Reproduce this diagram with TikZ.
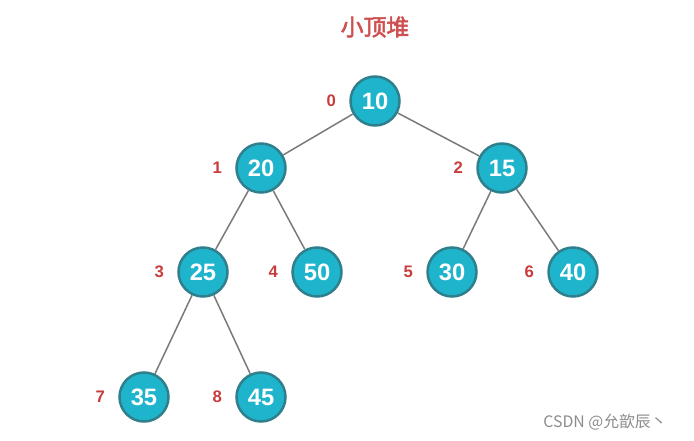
\documentclass[tikz,border=0pt]{standalone}
\usepackage{fontspec}
\setmainfont{Liberation Sans}
\newfontfamily\cjkfont{Noto Sans CJK SC}
\newfontfamily\cjkbold[AutoFakeBold=2.5]{Noto Sans CJK SC}
\usepackage{xcolor}
\usetikzlibrary{positioning}
\definecolor{hpfill}{HTML}{1DB4CC}
\definecolor{hpedge}{HTML}{2F7F8C}
\definecolor{hpline}{HTML}{7A7A7A}
\definecolor{hpred}{HTML}{C83C3C}
\definecolor{hpmark}{HTML}{8C8C8C}

\begin{document}
\begin{tikzpicture}[x=0.2mm,y=-0.2mm,font=\bfseries,node distance=2.6mm]
  \tikzstyle{hp}=[circle,draw=hpedge,line width=0.5mm,fill=hpfill,text=white,minimum size=9.8mm,inner sep=0pt,font=\fontsize{13.5}{15}\selectfont\bfseries]
  \tikzstyle{idx}=[text=hpred,font=\fontsize{9.5}{11}\selectfont\bfseries,inner sep=0pt]
  \tikzstyle{br}=[draw=hpline,line width=0.3mm]
  \useasboundingbox (0,0) rectangle (694,441);
  % title
  \node[text=hpred!90,font=\cjkbold\fontsize{13}{15}\selectfont\bfseries] (title) at (375,27) {\textbf{小顶堆}};
  % heap nodes, row by row
  \node[hp] (n0) at (375,101) {10};
  \node[hp] (n1) at (261,168) {20};
  \node[hp] (n2) at (502,168) {15};
  \node[hp] (n3) at (203,272) {25};
  \node[hp] (n4) at (317,272) {50};
  \node[hp] (n5) at (452,272) {30};
  \node[hp] (n6) at (573,272) {40};
  \node[hp] (n7) at (144,397) {35};
  \node[hp] (n8) at (261,397) {45};
  % array indices
  \foreach \i in {0,...,8}
    \node[idx,left=of n\i] (i\i) {\i};
  % branches
  \draw[br] (n0) -- (n1);
  \draw[br] (n0) -- (n2);
  \draw[br] (n1) -- (n3);
  \draw[br] (n1) -- (n4);
  \draw[br] (n2) -- (n5);
  \draw[br] (n2) -- (n6);
  \draw[br] (n3) -- (n7);
  \draw[br] (n3) -- (n8);
  % watermark
  \node[text=hpmark,font=\cjkfont\fontsize{9}{11}\selectfont\mdseries] (wm) at (605,422) {CSDN @允歆辰丶};
\end{tikzpicture}
\end{document}
